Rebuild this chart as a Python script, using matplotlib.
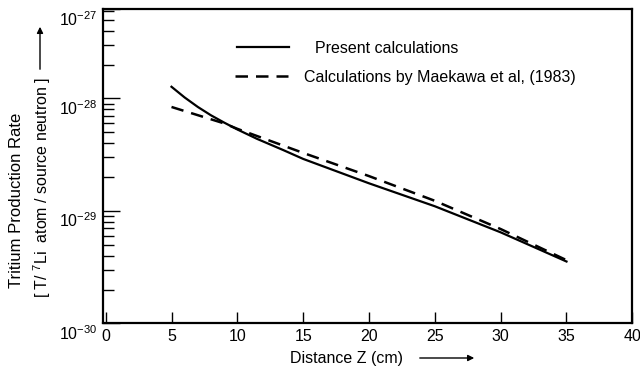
import matplotlib
matplotlib.use("Agg")
import matplotlib.pyplot as plt
from matplotlib.transforms import ScaledTranslation
import numpy as np

plt.rcParams['font.family'] = ['Liberation Sans', 'DejaVu Sans']
plt.rcParams['mathtext.fontset'] = 'custom'
plt.rcParams['mathtext.rm'] = 'Liberation Sans'
plt.rcParams['mathtext.it'] = 'Liberation Sans'

# Data
z_present = [5, 6, 7, 8, 9, 10, 11.5, 13.5, 15, 20, 25, 30, 35]
rate_present = [1.27e-28, 1.02e-28, 8.4e-29, 7.08e-29, 6.1e-29, 5.3e-29,
                4.37e-29, 3.47e-29, 2.9e-29, 1.76e-29, 1.1e-29, 6.45e-30,
                3.55e-30]
z_maekawa = [5, 9, 10, 15, 20, 25, 30, 35]
rate_maekawa = [8.4e-29, 6.0e-29, 5.37e-29, 3.28e-29, 2.04e-29, 1.23e-29,
                6.9e-30, 3.65e-30]
labels = ["Present calculations", "Calculations by Maekawa et al, (1983)"]
x_ticks = [0, 5, 10, 15, 20, 25, 30, 35, 40]
y_top = 6.2e-28
y_ticks = [1e-30, 1e-29, 1e-28, y_top]
y_ticklabels = [r"$10^{-30}$", r"$10^{-29}$", r"$10^{-28}$", r"$10^{-27}$"]

FS = 11.5

fig = plt.figure(figsize=(6.4, 3.73), dpi=100)
ax = fig.add_axes([0.161, 0.133, 0.827, 0.842])

l1, = ax.plot(z_present, rate_present, color='black', lw=1.6, label=labels[0])
l2, = ax.plot(z_maekawa, rate_maekawa, color='black', lw=1.8, dashes=(5, 3.2),
              label=labels[1])

ax.set_yscale('log')
ax.set_xlim(-0.2, 40)
ax.set_ylim(1e-30, y_top)
ax.set_xticks(x_ticks)
ax.set_xticklabels([str(v) for v in x_ticks], fontsize=FS)
ax.set_yticks(y_ticks)
ax.set_yticklabels(y_ticklabels, fontsize=FS)
ax.tick_params(axis='x', direction='in', length=8, width=1, pad=4, top=False)
ax.tick_params(axis='y', which='major', direction='in', length=12, width=1,
               pad=4, right=False)
ax.tick_params(axis='y', which='minor', direction='in', length=8, width=1,
               right=False)
for s in ax.spines.values():
    s.set_linewidth(1.6)

offset = ScaledTranslation(0, -0.085, fig.dpi_scale_trans)
for lab in ax.get_yticklabels():
    lab.set_transform(lab.get_transform() + offset)

leg1 = ax.legend(handles=[l1], loc='upper left', bbox_to_anchor=(0.225, 0.945),
                 frameon=False, fontsize=FS, handlelength=3.3,
                 handletextpad=1.6)
ax.add_artist(leg1)
ax.legend(handles=[l2], loc='upper left', bbox_to_anchor=(0.222, 0.853),
          frameon=False, fontsize=FS, handlelength=3.3, handletextpad=1.0)

# Axis labels with arrows
fig.text(347 / 640, 1 - 358 / 373, "Distance Z (cm)", ha='center', va='center',
         fontsize=FS)
fig.add_artist(matplotlib.patches.FancyArrowPatch(
    (417 / 640, 1 - 358 / 373), (477 / 640, 1 - 358 / 373),
    transform=fig.transFigure, arrowstyle='-|>', mutation_scale=9,
    color='black', lw=1))

fig.text(17 / 640, 1 - 200 / 373, "Tritium Production Rate", rotation=90,
         ha='center', va='center', fontsize=FS + 0.5)
fig.text(42 / 640, 1 - 298 / 373, r"[ T/ $^{7}$Li  atom / source neutron ]",
         rotation=90, ha='center', va='bottom', fontsize=FS)
fig.add_artist(matplotlib.patches.FancyArrowPatch(
    (40 / 640, 1 - 72 / 373), (40 / 640, 1 - 24 / 373),
    transform=fig.transFigure, arrowstyle='-|>', mutation_scale=9,
    color='black', lw=1))

fig.savefig("out.png", dpi=100)
